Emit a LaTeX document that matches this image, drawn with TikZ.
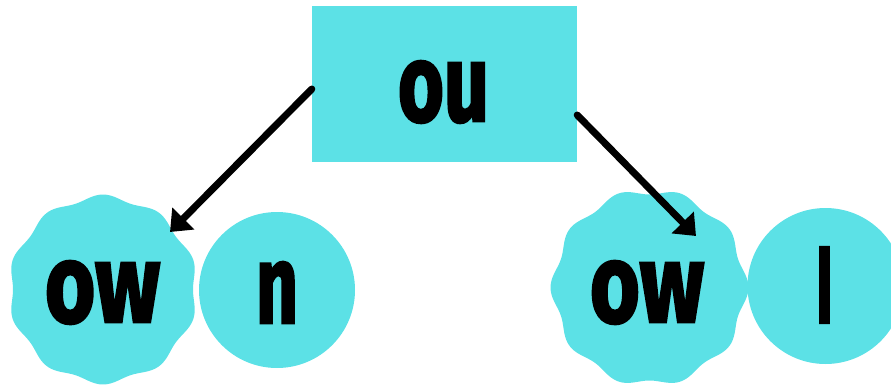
\documentclass[tikz,border=0pt]{standalone}
\usepackage{fontspec}
\setmainfont{Fira Sans}
\newfontfamily\lblfont{Fira Sans}[UprightFont={* Bold}, FakeBold=2.5]
\newfontfamily\lfont{DejaVu Sans}[UprightFont={* Bold}, FakeBold=2]
\usetikzlibrary{arrows.meta,calc}
\definecolor{cyanbox}{HTML}{5CE1E6}
\tikzset{
  shapefill/.style={fill=cyanbox, draw=none},
  lbl/.style={inner sep=0pt, font=\lblfont},
  conn/.style={line width=7pt, line cap=round, -{Triangle[length=19pt,width=30pt]}},
}
\begin{document}
\begin{tikzpicture}[x=1pt,y=1pt]
\useasboundingbox (0,0) rectangle (891,384);
% top rectangle
\node[shapefill, rectangle, minimum width=265pt, minimum height=156pt, inner sep=0pt] (box) at (444.5,300) {};
\node[lbl] (boxlbl) at (443.5,292) {\resizebox{91pt}{60pt}{ou}};
% wavy blobs
\fill[cyanbox, shift={(103,94.5)}] plot[domain=0:360, samples=240] (\x:{92.5+2.5*cos(10*(\x-90))}) -- cycle;
\fill[cyanbox, shift={(649.5,96.5)}] plot[domain=0:360, samples=240] (\x:{96+3*cos(10*\x)}) -- cycle;
% circles
\node[shapefill, circle, minimum size=156pt, inner sep=0pt] (circN) at (277,94) {};
\node[shapefill, circle, minimum size=156pt, inner sep=0pt] (circL) at (825.5,98) {};
% labels
\node[lbl] (owL) at (102.5,91.5) {\resizebox{115pt}{61pt}{ow}};
\node[lbl] (owR) at (647,91.5) {\resizebox{114pt}{61pt}{ow}};
\node[lbl] (nlbl) at (277,91.5) {\resizebox{42pt}{61pt}{n}};
\node[lbl, font=\lfont] (llbl) at (824.5,99) {\resizebox{19pt}{76pt}{l}};
% connectors
\draw[conn] ([yshift=-5pt]box.west) -- ($(owL)+(67.5,60.5)$);
\draw[conn] ([yshift=-31pt]box.east) -- ($(owR)+(49,56.5)$);
\end{tikzpicture}
\end{document}
